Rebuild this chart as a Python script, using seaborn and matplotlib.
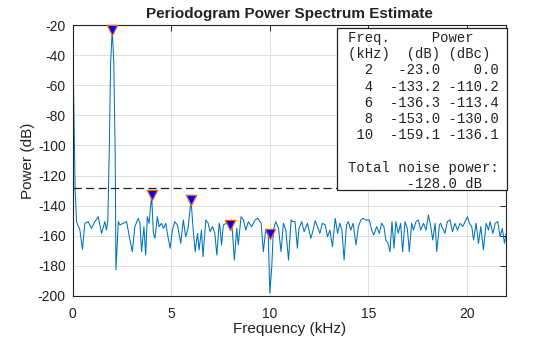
import matplotlib
matplotlib.use("Agg")
import matplotlib.pyplot as plt
from matplotlib.patches import Rectangle
import seaborn as sns
import pandas as pd

# Periodogram trace (frequency in kHz, power in dB)
freq_khz = [
    0.00, 0.06, 0.12, 0.19, 0.36, 0.49, 0.61, 0.78, 0.95, 1.12, 1.29, 1.46, 1.63, 1.71,
    1.78, 1.85, 1.92, 2.00, 2.08, 2.15, 2.19,
    2.31, 2.39, 2.56, 2.73, 2.87, 3.02, 3.15, 3.32, 3.41, 3.49, 3.61,
    3.70, 3.78, 3.87, 4.00, 4.09, 4.17, 4.29, 4.38, 4.50, 4.60, 4.72, 4.80, 4.94, 5.06,
    5.17, 5.31, 5.48, 5.61, 5.73, 5.85, 6.00, 6.11, 6.21, 6.33, 6.41, 6.53, 6.61, 6.75,
    6.87, 6.97, 7.09, 7.21, 7.31, 7.43,
    7.47, 7.55, 7.64, 7.81, 7.90, 8.00, 8.06, 8.20, 8.32, 8.40, 8.54, 8.66, 8.78, 8.91,
    9.08, 9.25, 9.39, 9.56, 9.67, 9.79, 9.92, 10.00, 10.10, 10.18, 10.30, 10.44, 10.57,
    10.69, 10.81, 10.95, 11.08,
    11.15, 11.28, 11.40, 11.48, 11.62, 11.74, 11.91, 12.08, 12.20, 12.30, 12.42, 12.54,
    12.67, 12.81, 12.93, 13.05, 13.18, 13.32, 13.44, 13.55, 13.66, 13.77, 13.89, 13.99,
    14.11, 14.23, 14.37, 14.50, 14.62, 14.74, 14.88,
    15.05, 15.17, 15.28, 15.42, 15.56, 15.67, 15.79, 15.89, 16.00, 16.10, 16.20, 16.30,
    16.40, 16.52, 16.64, 16.74, 16.86, 16.98, 17.08, 17.20, 17.29, 17.42, 17.54, 17.66,
    17.80, 17.93, 18.05, 18.17, 18.27, 18.39, 18.47, 18.61,
    18.67, 18.77, 18.89, 19.01, 19.15, 19.27, 19.40, 19.52, 19.66, 19.79, 19.91, 20.03,
    20.13, 20.25, 20.34, 20.47, 20.59, 20.71, 20.84, 20.98, 21.10, 21.18, 21.32, 21.44,
    21.57, 21.69, 21.80, 21.91, 22.00,
]
power_db = [
    -30.0, -80.0, -130.0, -150.6, -156.2, -169.0, -151.7, -150.6, -155.1, -150.6, -147.3, -158.4, -150.6, -156.2,
    -150.0, -103.0, -45.0, -23.0, -45.0, -103.0, -182.7,
    -150.6, -152.8, -151.7, -150.6, -160.6, -170.6, -153.9, -148.4, -151.7, -170.6, -153.9,
    -172.8, -147.3, -151.7, -133.2, -158.4, -161.7, -147.3, -153.9, -151.7, -155.1, -151.7, -158.4, -168.3, -156.2,
    -150.6, -152.8, -165.0, -149.5, -160.6, -155.1, -136.3, -156.2, -170.6, -158.4, -169.4, -156.2, -173.9, -149.5,
    -151.7, -157.3, -153.9, -158.4, -172.8, -151.7,
    -153.9, -166.1, -152.8, -151.7, -150.0, -153.0, -149.5, -176.1, -155.1, -166.1, -147.3, -149.5, -156.2, -150.6,
    -153.9, -149.5, -148.4, -151.7, -170.6, -156.2, -159.5, -198.0, -180.5, -156.2, -150.6, -155.1, -170.6,
    -151.7, -156.2, -176.1, -149.5,
    -150.6, -150.6, -168.3, -155.1, -150.6, -157.3, -151.7, -161.7, -156.2, -150.0, -153.9, -158.4,
    -151.7, -152.8, -160.6, -156.2, -167.2, -148.4, -158.4, -151.7, -156.2, -176.1, -152.8, -150.6,
    -156.2, -151.7, -166.1, -153.9, -149.5, -148.4, -149.5,
    -149.5, -156.2, -159.5, -153.9, -158.4, -151.7, -153.9, -162.8, -165.0, -170.6, -150.6, -168.3,
    -150.6, -158.4, -151.7, -170.6, -150.6, -155.1, -170.6, -151.7, -156.2, -150.6, -149.5, -156.2,
    -151.7, -156.2, -146.2, -153.9, -162.8, -151.7, -170.6, -152.8,
    -151.7, -155.1, -158.4, -150.6, -149.5, -157.3, -151.7, -156.2, -151.7, -153.9, -150.6, -147.3,
    -151.7, -153.9, -162.8, -151.7, -165.0, -153.9, -169.4, -151.7, -156.2, -150.6, -158.4, -151.7,
    -150.6, -160.6, -155.1, -165.0, -158.4,
]

# Fundamental and harmonics
harm_freq_khz = [2, 4, 6, 8, 10]
harm_power_db = [-23.0, -133.2, -136.3, -153.0, -159.1]
harm_power_dbc = [0.0, -110.2, -113.4, -130.0, -136.1]
total_noise_db = -128.0

sns.set_theme(style="whitegrid")
plt.rcParams["font.family"] = ["Liberation Sans", "DejaVu Sans"]
plt.rcParams["axes.unicode_minus"] = False

fig = plt.figure(figsize=(5.6, 3.37), dpi=100)
ax = fig.add_axes([0.130, 0.1217, 0.774, 0.804])
ax.set_facecolor("white")

trace = pd.DataFrame({"f": freq_khz, "p": power_db})
sns.lineplot(data=trace, x="f", y="p", sort=False, color="#0072BD", linewidth=0.75, ax=ax)

harm = pd.DataFrame({"f": harm_freq_khz, "p": harm_power_db})
sns.scatterplot(data=harm, x="f", y="p", marker="v", s=55, color="#0000FF",
                edgecolor="#E8692A", linewidth=0.9, zorder=5, ax=ax, clip_on=False)

ax.axhline(total_noise_db, color="#222222", linestyle=(0, (6.5, 3.5)), linewidth=0.9)

ax.set_xlim(0, 22)
ax.set_ylim(-200, -20)
ax.set_xticks([0, 5, 10, 15, 20])
ax.set_yticks(list(range(-200, -19, 20)))
ax.grid(True, color="#dedede", linewidth=0.7)
ax.tick_params(direction="in", length=4, width=0.7, colors="#222222",
               top=True, right=True, labelsize=10)
ax.tick_params(axis="x", pad=8)
ax.tick_params(axis="y", pad=5)
for sp in ax.spines.values():
    sp.set_color("#222222")
    sp.set_linewidth(0.8)

ax.set_xlabel("Frequency (kHz)", fontsize=11, color="#222222", labelpad=1)
ax.set_ylabel("Power (dB)", fontsize=11, color="#222222", labelpad=2)
ax.set_title("Periodogram Power Spectrum Estimate", fontsize=11, fontweight="bold",
             color="#222222", pad=5)

# Harmonic summary table
lines = ["Freq.     Power", "(kHz)  (dB) (dBc)"]
for f, p, c in zip(harm_freq_khz, harm_power_db, harm_power_dbc):
    lines.append(f"{f:3d}{p:8.1f}{c:7.1f}")
lines.append("")
lines.append("Total noise power:")
lines.append(f"       {total_noise_db:.1f} dB")

W, H = 560, 337
fig.patches.append(Rectangle((337 / W, (H - 190) / H), 170 / W, 162 / H,
                             transform=fig.transFigure, facecolor="white",
                             edgecolor="#222222", linewidth=0.9, zorder=4))
fig.text(348 / W, (H - 31) / H, "\n".join(lines), ha="left", va="top",
         family=["Liberation Mono", "DejaVu Sans Mono"], fontsize=10,
         linespacing=1.2, color="#222222", zorder=6)

fig.savefig("out.png", dpi=100)
